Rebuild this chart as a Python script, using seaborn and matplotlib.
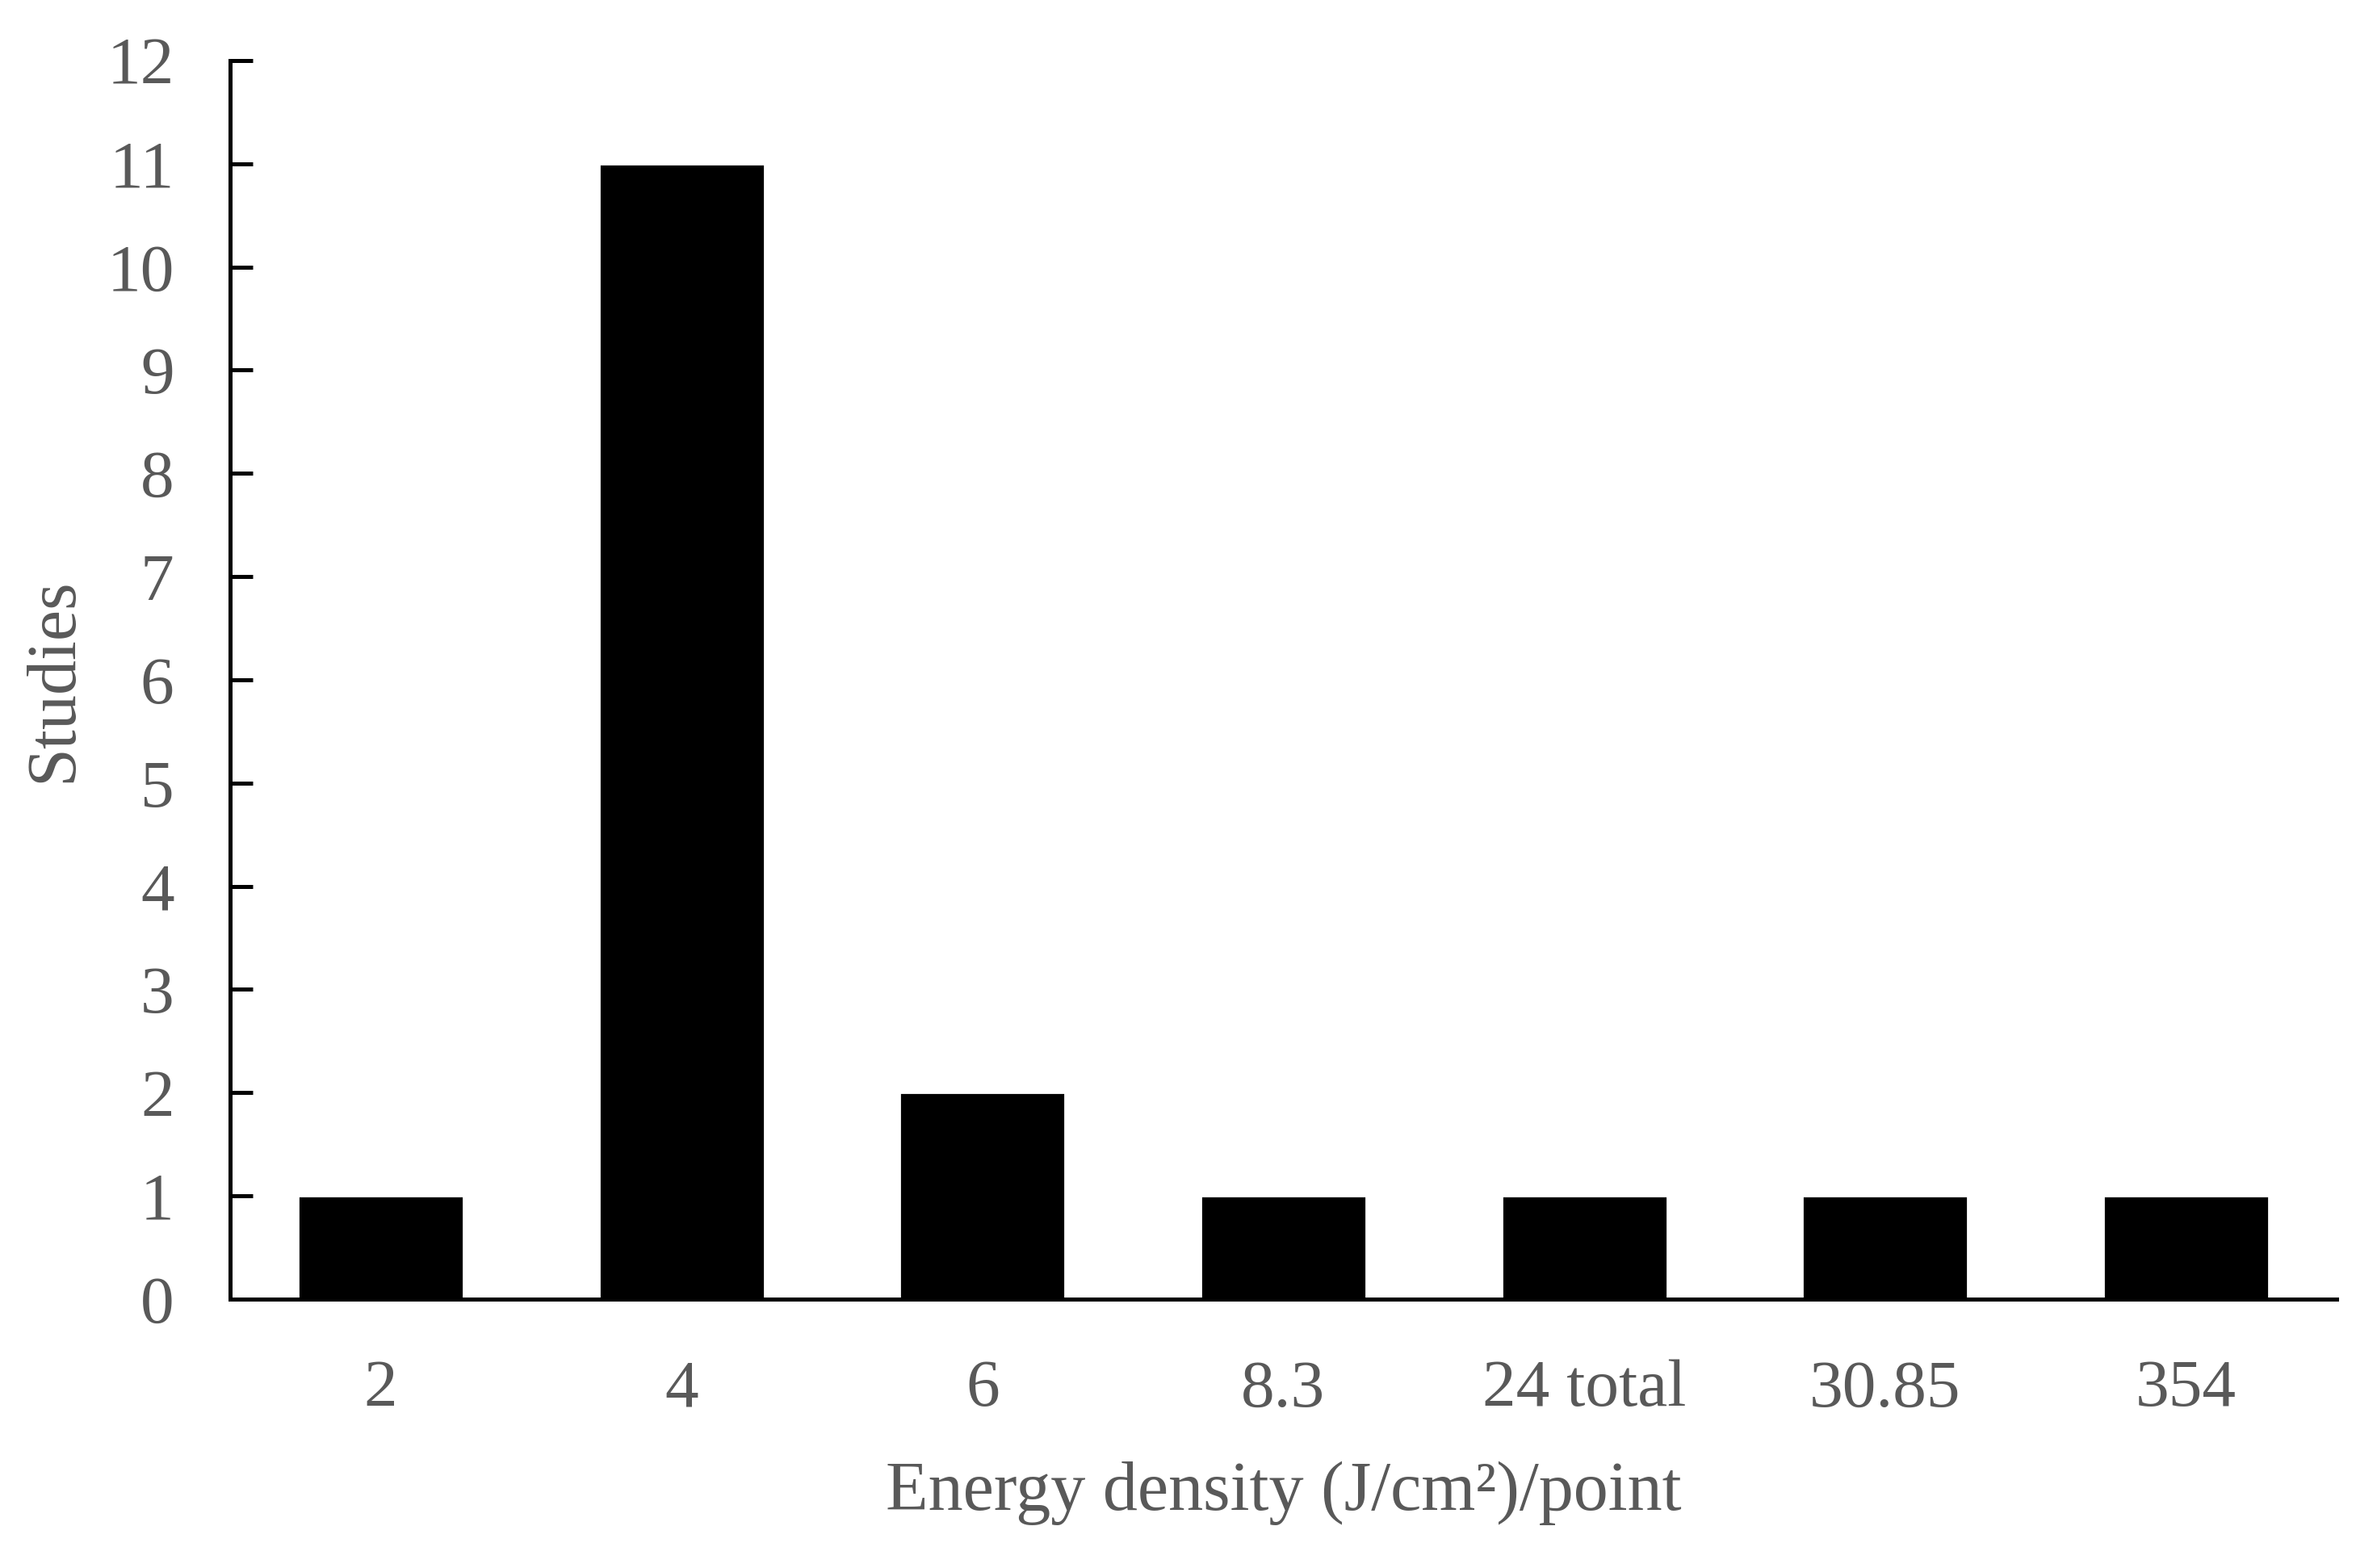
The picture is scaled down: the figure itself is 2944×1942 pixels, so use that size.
#!/usr/bin/env python3
import pandas as pd
import matplotlib.pyplot as plt
import seaborn as sns

energy = ['2', '4', '6', '8.3', '24 total', '30.85', '354']
studies = [1, 11, 2, 1, 1, 1, 1]

df = pd.DataFrame({'energy': energy, 'studies': studies})

sns.set_style('ticks')
plt.rcParams['font.family'] = ['Liberation Serif', 'DejaVu Serif']
grey = '#595959'

fig = plt.figure(figsize=(14.72, 9.71), dpi=200)
ax = fig.add_axes([0.0968, 0.1715, 0.8862, 0.7899])
sns.barplot(x='energy', y='studies', data=df, color='black', width=0.55,
            saturation=1, ax=ax)

ax.set_ylim(0, 12)
ax.set_yticks(range(0, 13))
ax.set_xlim(-0.5, len(energy) - 0.5)
ax.tick_params(axis='y', direction='in', length=10, width=1.8, color='black',
               labelsize=30, labelcolor=grey, pad=25)
ax.tick_params(axis='x', length=0, labelsize=30, labelcolor=grey, pad=27)
for s in ['left', 'bottom']:
    ax.spines[s].set_linewidth(1.8)
    ax.spines[s].set_color('black')
sns.despine(ax=ax)

ax.set_xlabel('Energy density (J/cm\u00b2)/point', fontsize=31, color=grey, labelpad=18)
ax.set_ylabel('Studies', fontsize=31, color=grey, labelpad=9)

plt.savefig('out.png', dpi=200)
